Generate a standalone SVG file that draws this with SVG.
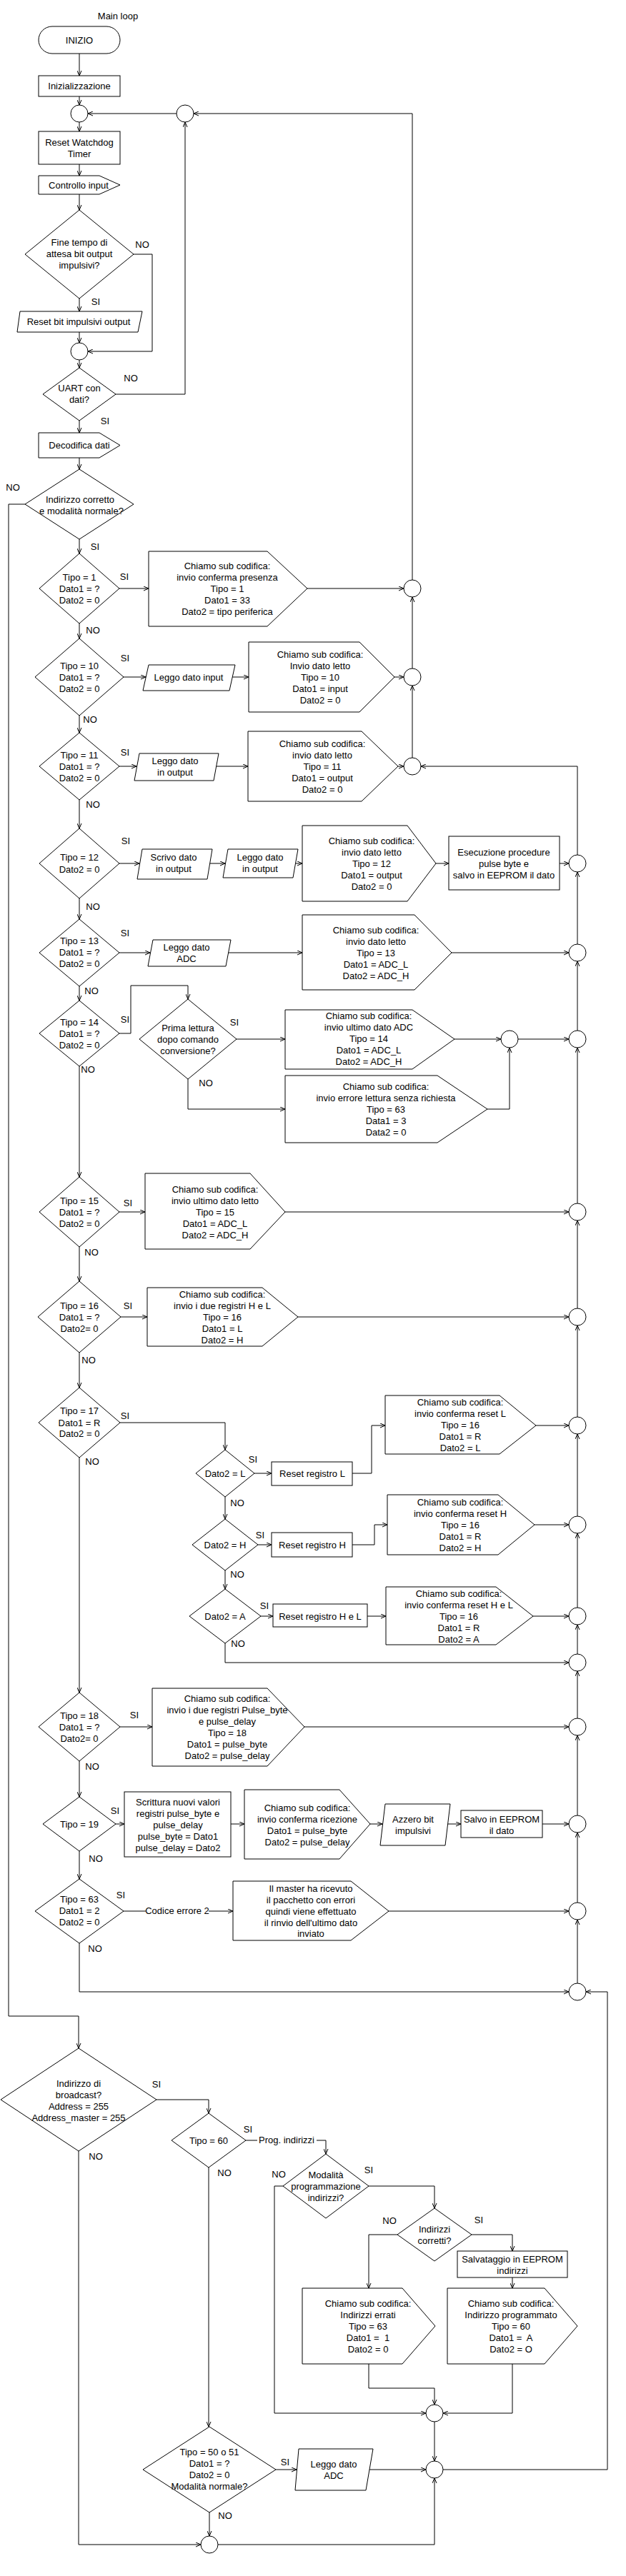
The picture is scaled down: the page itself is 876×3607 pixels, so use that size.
<svg xmlns="http://www.w3.org/2000/svg" width="876" height="3607" viewBox="0 0 876 3607">
<style>
.s{fill:#fff;stroke:#000;stroke-width:1}
.t{font-family:"Liberation Sans",Arial,sans-serif;font-size:13px;fill:#000;text-anchor:middle}
.c{fill:none;stroke:#000;stroke-width:1;marker-end:url(#ah)}
.n{fill:none;stroke:#000;stroke-width:1}
</style>
<defs>
<marker id="ah" viewBox="0 0 7 7" refX="7" refY="3.5" markerWidth="7" markerHeight="7" markerUnits="userSpaceOnUse" orient="auto"><path d="M0,0.5 L7,3.5 L0,6.5" fill="none" stroke="#000" stroke-width="1"/></marker>
</defs>
<rect width="876" height="3607" fill="#fff"/>
<text class="t" x="165" y="27">Main loop</text>

<g id="connectors">
<path class="c" d="M111,75 V106"/>
<path class="c" d="M111,135 V147"/>
<path class="c" d="M247,159 H123"/>
<path class="c" d="M577,812 V159 H271"/>
<path class="c" d="M111,171 V184"/>
<path class="c" d="M111,230 V246"/>
<path class="c" d="M111,272 V294"/>
<path class="c" d="M111,418 V436"/>
<path class="c" d="M187,356 H213 V492 H123"/>
<path class="c" d="M111,465 V480"/>
<path class="c" d="M111,504 V515"/>
<path class="c" d="M162,552 H259 V171"/>
<path class="c" d="M111,589 V606"/>
<path class="c" d="M111,641 V657"/>
<path class="c" d="M35,706 H12 V2823 H110 V2868"/>
<path class="c" d="M111,755 V775"/>
<path class="c" d="M167,824 H208"/>
<path class="c" d="M430,824 H565"/>
<path class="c" d="M111,873 V894"/>
<path class="c" d="M173,948 H204"/>
<path class="c" d="M325,948 H348"/>
<path class="c" d="M552,948 H565"/>
<path class="c" d="M577,936 V836"/>
<path class="c" d="M111,1002 V1026"/>
<path class="c" d="M167,1073 H191"/>
<path class="c" d="M302,1073 H347"/>
<path class="c" d="M557,1073 H565"/>
<path class="c" d="M577,1061 V960"/>
<path class="c" d="M808,1197 V1073 H589"/>
<path class="c" d="M111,1120 V1160"/>
<path class="c" d="M167,1209 H195"/>
<path class="c" d="M294,1209 H315"/>
<path class="c" d="M414,1209 H423"/>
<path class="c" d="M610,1209 H628"/>
<path class="c" d="M783,1209 H796"/>
<path class="c" d="M808,1322 V1221"/>
<path class="c" d="M111,1258 V1287"/>
<path class="c" d="M167,1334 H210"/>
<path class="c" d="M320,1334 H423"/>
<path class="c" d="M632,1334 H796"/>
<path class="c" d="M808,1443 V1346"/>
<path class="c" d="M111,1381 V1401"/>
<path class="c" d="M167,1447 H183 V1380 H263 V1399"/>
<path class="c" d="M331,1455 H399"/>
<path class="c" d="M636,1455 H701"/>
<path class="c" d="M725,1455 H796"/>
<path class="c" d="M263,1511 V1553 H399"/>
<path class="c" d="M682,1553 H713 V1467"/>
<path class="c" d="M808,1685 V1467"/>
<path class="c" d="M111,1493 V1648"/>
<path class="c" d="M167,1697 H203"/>
<path class="c" d="M399,1697 H796"/>
<path class="c" d="M808,1832 V1709"/>
<path class="c" d="M111,1746 V1794"/>
<path class="c" d="M169,1844 H206"/>
<path class="c" d="M417,1844 H796"/>
<path class="c" d="M808,1984 V1856"/>
<path class="c" d="M111,1894 V1943"/>
<path class="c" d="M168,1992 H315 V2030"/>
<path class="c" d="M356,2063 H380"/>
<path class="c" d="M493,2063 H520 V1996 H539"/>
<path class="c" d="M750,1996 H796"/>
<path class="c" d="M808,2123 V2008"/>
<path class="c" d="M315,2096 V2127"/>
<path class="c" d="M361,2163 H380"/>
<path class="c" d="M493,2163 H524 V2135 H542"/>
<path class="c" d="M748,2135 H796"/>
<path class="c" d="M808,2251 V2147"/>
<path class="c" d="M315,2199 V2225"/>
<path class="c" d="M365,2263 H382"/>
<path class="c" d="M514,2263 H540"/>
<path class="c" d="M746,2263 H796"/>
<path class="c" d="M808,2316 V2275"/>
<path class="c" d="M315,2301 V2328 H796"/>
<path class="c" d="M808,2406 V2340"/>
<path class="c" d="M111,2041 V2370"/>
<path class="c" d="M168,2418 H213"/>
<path class="c" d="M426,2418 H796"/>
<path class="c" d="M808,2542 V2430"/>
<path class="c" d="M111,2466 V2516"/>
<path class="c" d="M162,2554 H174"/>
<path class="c" d="M323,2554 H342"/>
<path class="c" d="M518,2554 H535"/>
<path class="c" d="M627,2554 H645"/>
<path class="c" d="M759,2554 H796"/>
<path class="c" d="M808,2664 V2566"/>
<path class="c" d="M111,2592 V2631"/>
<path class="n" d="M173,2676 H204"/>
<path class="c" d="M292,2676 H326"/>
<path class="c" d="M544,2676 H796"/>
<path class="c" d="M808,2777 V2688"/>
<path class="c" d="M111,2721 V2789 H796"/>
<path class="c" d="M620,3458 H850 V2789 H820"/>
<path class="c" d="M219,2940 H292 V2959"/>
<path class="n" d="M344,2997 H360"/>
<path class="c" d="M443,2997 H456 V3016"/>
<path class="c" d="M516,3061 H608 V3092"/>
<path class="c" d="M396,3061 H384 V3379 H596"/>
<path class="c" d="M556,3129 H516 V3204"/>
<path class="c" d="M660,3129 H717 V3152"/>
<path class="c" d="M717,3189 V3204"/>
<path class="c" d="M516,3310 V3344 H608 V3367"/>
<path class="c" d="M717,3310 V3379 H620"/>
<path class="c" d="M608,3391 V3446"/>
<path class="c" d="M292,3035 V3398"/>
<path class="c" d="M386,3458 H415"/>
<path class="c" d="M517,3458 H596"/>
<path class="c" d="M293,3518 V3551"/>
<path class="c" d="M110,3012 V3563 H281"/>
<path class="c" d="M305,3563 H608 V3470"/>
<text class="t" x="248" y="2680">Codice errore 2</text>
<text class="t" x="401" y="3001">Prog. indirizzi</text>
</g>

<g id="labels">
<text class="t" x="199" y="347">NO</text><text class="t" x="134" y="427">SI</text>
<text class="t" x="183" y="534">NO</text><text class="t" x="147" y="594">SI</text>
<text class="t" x="18" y="687">NO</text><text class="t" x="133" y="770">SI</text>
<text class="t" x="174" y="812">SI</text><text class="t" x="130" y="887">NO</text>
<text class="t" x="175" y="926">SI</text><text class="t" x="126" y="1012">NO</text>
<text class="t" x="175" y="1058">SI</text><text class="t" x="130" y="1131">NO</text>
<text class="t" x="176" y="1182">SI</text><text class="t" x="130" y="1274">NO</text>
<text class="t" x="175" y="1311">SI</text><text class="t" x="128" y="1392">NO</text>
<text class="t" x="175" y="1432">SI</text><text class="t" x="123" y="1502">NO</text>
<text class="t" x="328" y="1436">SI</text><text class="t" x="288" y="1521">NO</text>
<text class="t" x="179" y="1689">SI</text><text class="t" x="128" y="1758">NO</text>
<text class="t" x="179" y="1833">SI</text><text class="t" x="124" y="1909">NO</text>
<text class="t" x="175" y="1987">SI</text><text class="t" x="129" y="2051">NO</text>
<text class="t" x="354" y="2048">SI</text><text class="t" x="332" y="2109">NO</text>
<text class="t" x="364" y="2154">SI</text><text class="t" x="332" y="2209">NO</text>
<text class="t" x="370" y="2253">SI</text><text class="t" x="333" y="2306">NO</text>
<text class="t" x="188" y="2406">SI</text><text class="t" x="129" y="2478">NO</text>
<text class="t" x="161" y="2540">SI</text><text class="t" x="134" y="2607">NO</text>
<text class="t" x="169" y="2658">SI</text><text class="t" x="133" y="2733">NO</text>
<text class="t" x="219" y="2923">SI</text><text class="t" x="134" y="3024">NO</text>
<text class="t" x="347" y="2986">SI</text><text class="t" x="314" y="3047">NO</text>
<text class="t" x="390" y="3049">NO</text><text class="t" x="516" y="3043">SI</text>
<text class="t" x="545" y="3114">NO</text><text class="t" x="670" y="3113">SI</text>
<text class="t" x="399" y="3452">SI</text><text class="t" x="315" y="3527">NO</text>
</g>

<g id="inizio"><rect class="s" x="54" y="37" width="114" height="38" rx="19"/><text class="t" x="111" y="60.5">INIZIO</text></g>
<g id="inizializzazione"><rect class="s" x="54" y="106" width="114" height="29"/><text class="t" x="111" y="125">Inizializzazione</text></g>
<g id="c1"><circle class="s" cx="111" cy="159" r="12"/></g>
<g id="c2"><circle class="s" cx="259" cy="159" r="12"/></g>
<g id="watchdog"><rect class="s" x="54" y="184" width="114" height="46"/><text class="t" x="111"><tspan x="111" y="204">Reset Watchdog</tspan><tspan x="111" y="219.5">Timer</tspan></text></g>
<g id="controllo"><path class="s" d="M54,246 H139 L168,259 L139,272 H54 Z"/><text class="t" x="110" y="263.5">Controllo input</text></g>
<g id="fine_tempo"><polygon class="s" points="111,294 187,356 111,418 35,356"/><text class="t"><tspan x="111" y="343.5">Fine tempo di</tspan><tspan x="111" y="359.5">attesa bit output</tspan><tspan x="111" y="375.5">impulsivi?</tspan></text></g>
<g id="reset_bit"><polygon class="s" points="28,436 199,436 193,465 24,465"/><text class="t" x="110" y="455">Reset bit impulsivi output</text></g>
<g id="c3"><circle class="s" cx="111" cy="492" r="12"/></g>
<g id="uart"><polygon class="s" points="111,515 162,552 111,589 60,552"/><text class="t"><tspan x="111" y="548">UART con</tspan><tspan x="111" y="564">dati?</tspan></text></g>
<g id="decodifica"><path class="s" d="M54,606 H139 L168,623.5 L139,641 H54 Z"/><text class="t" x="111" y="628">Decodifica dati</text></g>
<g id="indirizzo"><polygon class="s" points="111,657 187,706 111,755 35,706"/><text class="t"><tspan x="112" y="703.5">Indirizzo corretto</tspan><tspan x="114" y="719.5">e modalità normale?</tspan></text></g>

<g id="tipo1"><polygon class="s" points="111,775 167,824 111,873 55,824"/><text class="t"><tspan x="111" y="812.5">Tipo = 1</tspan><tspan x="111" y="828.5">Dato1 = ?</tspan><tspan x="111" y="844.5">Dato2 = 0</tspan></text></g>
<g id="sub1"><path class="s" d="M208,772 H374 L430,824 L374,877 H208 Z"/><text class="t"><tspan x="318" y="796.5">Chiamo sub codifica:</tspan><tspan x="318" y="812.5">invio conferma presenza</tspan><tspan x="318" y="828.5">Tipo = 1</tspan><tspan x="318" y="844.5">Dato1 = 33</tspan><tspan x="318" y="860.5">Dato2 = tipo periferica</tspan></text></g>
<g id="ct1"><circle class="s" cx="577" cy="824" r="12"/></g>

<g id="tipo10"><polygon class="s" points="111,894 173,948 111,1002 49,948"/><text class="t"><tspan x="111" y="936.5">Tipo = 10</tspan><tspan x="111" y="952.5">Dato1 = ?</tspan><tspan x="111" y="968.5">Dato2 = 0</tspan></text></g>
<g id="leggo10"><polygon class="s" points="208,931 329,931 321,967 200,967"/><text class="t" x="264" y="952.5">Leggo dato input</text></g>
<g id="sub10"><path class="s" d="M348,899 H503 L552,948 L503,997 H348 Z"/><text class="t"><tspan x="448" y="920.5">Chiamo sub codifica:</tspan><tspan x="448" y="936.5">Invio dato letto</tspan><tspan x="448" y="952.5">Tipo = 10</tspan><tspan x="448" y="968.5">Dato1 = input</tspan><tspan x="448" y="984.5">Dato2 = 0</tspan></text></g>
<g id="ct10"><circle class="s" cx="577" cy="948" r="12"/></g>

<g id="tipo11"><polygon class="s" points="111,1026 167,1073 111,1120 55,1073"/><text class="t"><tspan x="111" y="1061.5">Tipo = 11</tspan><tspan x="111" y="1077.5">Dato1 = ?</tspan><tspan x="111" y="1093.5">Dato2 = 0</tspan></text></g>
<g id="leggo11"><polygon class="s" points="195,1055 306,1055 299,1093 188,1093"/><text class="t"><tspan x="245" y="1070">Leggo dato</tspan><tspan x="245" y="1086">in output</tspan></text></g>
<g id="sub11"><path class="s" d="M347,1024 H506 L557,1073 L506,1122 H347 Z"/><text class="t"><tspan x="451" y="1045.5">Chiamo sub codifica:</tspan><tspan x="451" y="1061.5">invio dato letto</tspan><tspan x="451" y="1077.5">Tipo = 11</tspan><tspan x="451" y="1093.5">Dato1 = output</tspan><tspan x="451" y="1109.5">Dato2 = 0</tspan></text></g>
<g id="ct11"><circle class="s" cx="577" cy="1073" r="12"/></g>

<g id="tipo12"><polygon class="s" points="111,1160 167,1209 111,1258 55,1209"/><text class="t"><tspan x="111" y="1205">Tipo = 12</tspan><tspan x="111" y="1221.5">Dato2 = 0</tspan></text></g>
<g id="scrivo12"><polygon class="s" points="199,1189 297,1189 290,1231 192,1231"/><text class="t"><tspan x="243" y="1205">Scrivo dato</tspan><tspan x="243" y="1221">in output</tspan></text></g>
<g id="leggo12"><polygon class="s" points="319,1189 417,1189 410,1229 312,1229"/><text class="t"><tspan x="364" y="1205">Leggo dato</tspan><tspan x="364" y="1221">in output</tspan></text></g>
<g id="sub12"><path class="s" d="M423,1156 H570 L610,1209 L570,1262 H423 Z"/><text class="t"><tspan x="520" y="1181.5">Chiamo sub codifica:</tspan><tspan x="520" y="1197.5">invio dato letto</tspan><tspan x="520" y="1213.5">Tipo = 12</tspan><tspan x="520" y="1229.5">Dato1 = output</tspan><tspan x="520" y="1245.5">Dato2 = 0</tspan></text></g>
<g id="esecuzione"><rect class="s" x="628" y="1171" width="155" height="75"/><text class="t"><tspan x="705" y="1197.5">Esecuzione procedure</tspan><tspan x="705" y="1213.5">pulse byte e</tspan><tspan x="705" y="1229.5">salvo in EEPROM il dato</tspan></text></g>
<g id="ct12"><circle class="s" cx="808" cy="1209" r="12"/></g>

<g id="tipo13"><polygon class="s" points="111,1287 167,1334 111,1381 55,1334"/><text class="t"><tspan x="111" y="1322">Tipo = 13</tspan><tspan x="111" y="1338">Dato1 = ?</tspan><tspan x="111" y="1354">Dato2 = 0</tspan></text></g>
<g id="leggo13"><polygon class="s" points="214,1316 323,1316 316,1353 207,1353"/><text class="t"><tspan x="261" y="1330.5">Leggo dato</tspan><tspan x="261" y="1346.5">ADC</tspan></text></g>
<g id="sub13"><path class="s" d="M423,1281 H580 L632,1334 L580,1386 H423 Z"/><text class="t"><tspan x="526" y="1306.5">Chiamo sub codifica:</tspan><tspan x="526" y="1322.5">invio dato letto</tspan><tspan x="526" y="1338.5">Tipo = 13</tspan><tspan x="526" y="1354.5">Dato1 = ADC_L</tspan><tspan x="526" y="1370.5">Dato2 = ADC_H</tspan></text></g>
<g id="ct13"><circle class="s" cx="808" cy="1334" r="12"/></g>

<g id="tipo14"><polygon class="s" points="111,1401 167,1447 111,1493 55,1447"/><text class="t"><tspan x="111" y="1435.5">Tipo = 14</tspan><tspan x="111" y="1451.5">Dato1 = ?</tspan><tspan x="111" y="1467.5">Dato2 = 0</tspan></text></g>
<g id="prima"><polygon class="s" points="263,1399 331,1455 263,1511 195,1455"/><text class="t"><tspan x="263" y="1443.5">Prima lettura</tspan><tspan x="263" y="1459.5">dopo comando</tspan><tspan x="263" y="1475.5">conversione?</tspan></text></g>
<g id="sub14"><path class="s" d="M399,1414 H577 L636,1455 L577,1497 H399 Z"/><text class="t"><tspan x="516" y="1427">Chiamo sub codifica:</tspan><tspan x="516" y="1443">invio ultimo dato ADC</tspan><tspan x="516" y="1459">Tipo = 14</tspan><tspan x="516" y="1475">Dato1 = ADC_L</tspan><tspan x="516" y="1491">Dato2 = ADC_H</tspan></text></g>
<g id="sub14err"><path class="s" d="M399,1506 H612 L682,1553 L612,1600 H399 Z"/><text class="t"><tspan x="540" y="1525.5">Chiamo sub codifica:</tspan><tspan x="540" y="1541.5">invio errore lettura senza richiesta</tspan><tspan x="540" y="1557.5">Tipo = 63</tspan><tspan x="540" y="1573.5">Data1 = 3</tspan><tspan x="540" y="1589.5">Data2 = 0</tspan></text></g>
<g id="ct14a"><circle class="s" cx="713" cy="1455" r="12"/></g>
<g id="ct14b"><circle class="s" cx="808" cy="1455" r="12"/></g>

<g id="tipo15"><polygon class="s" points="111,1648 167,1697 111,1746 55,1697"/><text class="t"><tspan x="111" y="1685.5">Tipo = 15</tspan><tspan x="111" y="1701.5">Dato1 = ?</tspan><tspan x="111" y="1717.5">Dato2 = 0</tspan></text></g>
<g id="sub15"><path class="s" d="M203,1643 H350 L399,1697 L350,1749 H203 Z"/><text class="t"><tspan x="301" y="1669.5">Chiamo sub codifica:</tspan><tspan x="301" y="1685.5">invio ultimo dato letto</tspan><tspan x="301" y="1701.5">Tipo = 15</tspan><tspan x="301" y="1717.5">Dato1 = ADC_L</tspan><tspan x="301" y="1733.5">Dato2 = ADC_H</tspan></text></g>
<g id="ct15"><circle class="s" cx="808" cy="1697" r="12"/></g>

<g id="tipo16"><polygon class="s" points="111,1794 169,1844 111,1894 53,1844"/><text class="t"><tspan x="111" y="1832.5">Tipo = 16</tspan><tspan x="111" y="1848.5">Dato1 = ?</tspan><tspan x="111" y="1864.5">Dato2= 0</tspan></text></g>
<g id="sub16"><path class="s" d="M206,1803 H367 L417,1844 L367,1885 H206 Z"/><text class="t"><tspan x="311" y="1816.5">Chiamo sub codifica:</tspan><tspan x="311" y="1832.5">invio i due registri H e L</tspan><tspan x="311" y="1848.5">Tipo = 16</tspan><tspan x="311" y="1864.5">Dato1 = L</tspan><tspan x="311" y="1880.5">Dato2 = H</tspan></text></g>
<g id="ct16"><circle class="s" cx="808" cy="1844" r="12"/></g>

<g id="tipo17"><polygon class="s" points="111,1943 168,1992 111,2041 54,1992"/><text class="t"><tspan x="111" y="1980">Tipo = 17</tspan><tspan x="111" y="1996.5">Dato1 = R</tspan><tspan x="111" y="2012">Dato2 = 0</tspan></text></g>
<g id="dato2L"><polygon class="s" points="315,2030 356,2063 315,2096 274,2063"/><text class="t" x="315" y="2067.5">Dato2 = L</text></g>
<g id="resetL"><rect class="s" x="380" y="2047" width="113" height="33"/><text class="t" x="437" y="2067.5">Reset registro L</text></g>
<g id="subL"><path class="s" d="M539,1954 H699 L750,1996 L699,2036 H539 Z"/><text class="t"><tspan x="644" y="1967.5">Chiamo sub codifica:</tspan><tspan x="644" y="1983.5">invio conferma reset L</tspan><tspan x="644" y="1999.5">Tipo = 16</tspan><tspan x="644" y="2015.5">Dato1 = R</tspan><tspan x="644" y="2031.5">Dato2 = L</tspan></text></g>
<g id="cL"><circle class="s" cx="808" cy="1996" r="12"/></g>
<g id="dato2H"><polygon class="s" points="315,2127 361,2163 315,2199 269,2163"/><text class="t" x="315" y="2167.5">Dato2 = H</text></g>
<g id="resetH"><rect class="s" x="380" y="2146" width="113" height="34"/><text class="t" x="437" y="2167.5">Reset registro H</text></g>
<g id="subH"><path class="s" d="M542,2093 H697 L748,2135 L697,2177 H542 Z"/><text class="t"><tspan x="644" y="2107.5">Chiamo sub codifica:</tspan><tspan x="644" y="2123.5">invio conferma reset H</tspan><tspan x="644" y="2139.5">Tipo = 16</tspan><tspan x="644" y="2155.5">Dato1 = R</tspan><tspan x="644" y="2171.5">Dato2 = H</tspan></text></g>
<g id="cH"><circle class="s" cx="808" cy="2135" r="12"/></g>
<g id="dato2A"><polygon class="s" points="315,2225 365,2263 315,2301 265,2263"/><text class="t" x="315" y="2267.5">Dato2 = A</text></g>
<g id="resetA"><rect class="s" x="382" y="2246" width="132" height="32"/><text class="t" x="448" y="2267.5">Reset registro H e L</text></g>
<g id="subA"><path class="s" d="M540,2222 H694 L746,2263 L694,2303 H540 Z"/><text class="t"><tspan x="642" y="2235.5">Chiamo sub codifica:</tspan><tspan x="642" y="2251.5">invio conferma reset H e L</tspan><tspan x="642" y="2267.5">Tipo = 16</tspan><tspan x="642" y="2283.5">Dato1 = R</tspan><tspan x="642" y="2299.5">Dato2 = A</tspan></text></g>
<g id="cA"><circle class="s" cx="808" cy="2263" r="12"/></g>
<g id="cA2"><circle class="s" cx="808" cy="2328" r="12"/></g>

<g id="tipo18"><polygon class="s" points="111,2370 168,2418 111,2466 54,2418"/><text class="t"><tspan x="111" y="2407">Tipo = 18</tspan><tspan x="111" y="2422.5">Dato1 = ?</tspan><tspan x="111" y="2438.5">Dato2= 0</tspan></text></g>
<g id="sub18"><path class="s" d="M213,2364 H374 L426,2418 L374,2473 H213 Z"/><text class="t"><tspan x="318" y="2382.5">Chiamo sub codifica:</tspan><tspan x="318" y="2398.5">invio i due registri Pulse_byte</tspan><tspan x="318" y="2414.5">e pulse_delay</tspan><tspan x="318" y="2430.5">Tipo = 18</tspan><tspan x="318" y="2446.5">Dato1 = pulse_byte</tspan><tspan x="318" y="2462.5">Dato2 = pulse_delay</tspan></text></g>
<g id="ct18"><circle class="s" cx="808" cy="2418" r="12"/></g>

<g id="tipo19"><polygon class="s" points="111,2516 162,2554 111,2592 60,2554"/><text class="t" x="111" y="2558.5">Tipo = 19</text></g>
<g id="scrittura"><rect class="s" x="174" y="2509" width="149" height="91"/><text class="t"><tspan x="249" y="2527.5">Scrittura nuovi valori</tspan><tspan x="249" y="2543.5">registri pulse_byte e</tspan><tspan x="249" y="2559.5">pulse_delay</tspan><tspan x="249" y="2575.5">pulse_byte = Dato1</tspan><tspan x="249" y="2591.5">pulse_delay = Dato2</tspan></text></g>
<g id="sub19"><path class="s" d="M342,2506 H475 L518,2554 L475,2603 H342 Z"/><text class="t"><tspan x="430" y="2535.5">Chiamo sub codifica:</tspan><tspan x="430" y="2551.5">invio conferma ricezione</tspan><tspan x="430" y="2567.5">Dato1 = pulse_byte</tspan><tspan x="430" y="2583.5">Dato2 = pulse_delay</tspan></text></g>
<g id="azzero"><polygon class="s" points="539,2526 630,2526 623,2584 532,2584"/><text class="t"><tspan x="578" y="2551.5">Azzero bit</tspan><tspan x="578" y="2567.5">impulsivi</tspan></text></g>
<g id="salvo"><rect class="s" x="645" y="2535" width="114" height="38"/><text class="t"><tspan x="702" y="2551.5">Salvo in EEPROM</tspan><tspan x="702" y="2567.5">il dato</tspan></text></g>
<g id="ct19"><circle class="s" cx="808" cy="2554" r="12"/></g>

<g id="tipo63"><polygon class="s" points="111,2631 173,2676 111,2721 49,2676"/><text class="t"><tspan x="111" y="2664">Tipo = 63</tspan><tspan x="111" y="2680">Dato1 = 2</tspan><tspan x="111" y="2696">Dato2 = 0</tspan></text></g>
<g id="sub63"><path class="s" d="M326,2634 H491 L544,2676 L491,2717 H326 Z"/><text class="t"><tspan x="435" y="2648.5">Il master ha ricevuto</tspan><tspan x="435" y="2664.5">il pacchetto con errori</tspan><tspan x="435" y="2680.5">quindi viene effettuato</tspan><tspan x="435" y="2696.5">il rinvio dell'ultimo dato</tspan><tspan x="435" y="2712">inviato</tspan></text></g>
<g id="ct63"><circle class="s" cx="808" cy="2676" r="12"/></g>
<g id="cm"><circle class="s" cx="808" cy="2789" r="12"/></g>

<g id="broadcast"><polygon class="s" points="110,2868 219,2940 110,3012 1,2940"/><text class="t"><tspan x="110" y="2921.5">Indirizzo di</tspan><tspan x="110" y="2937.5">broadcast?</tspan><tspan x="110" y="2953.5">Address = 255</tspan><tspan x="110" y="2969.5">Address_master = 255</tspan></text></g>
<g id="tipo60"><polygon class="s" points="292,2959 344,2997 292,3035 240,2997"/><text class="t" x="292" y="3001.5">Tipo = 60</text></g>
<g id="modalita"><polygon class="s" points="456,3016 516,3061 456,3106 396,3061"/><text class="t"><tspan x="456" y="3049.5">Modalità</tspan><tspan x="456" y="3065.5">programmazione</tspan><tspan x="456" y="3081.5">indirizzi?</tspan></text></g>
<g id="corretti"><polygon class="s" points="608,3092 660,3129 608,3166 556,3129"/><text class="t"><tspan x="608" y="3125.5">Indirizzi</tspan><tspan x="608" y="3141.5">corretti?</tspan></text></g>
<g id="salvataggio"><rect class="s" x="640" y="3152" width="154" height="37"/><text class="t"><tspan x="717" y="3167.5">Salvataggio in EEPROM</tspan><tspan x="717" y="3183.5">indirizzi</tspan></text></g>
<g id="suberr"><path class="s" d="M423,3204 H563 L609,3257 L563,3310 H423 Z"/><text class="t" xml:space="preserve"><tspan x="515" y="3229.5">Chiamo sub codifica:</tspan><tspan x="515" y="3245.5">Indirizzi errati</tspan><tspan x="515" y="3261.5">Tipo = 63</tspan><tspan x="515" y="3277.5">Dato1 =  1</tspan><tspan x="515" y="3293.5">Dato2 = 0</tspan></text></g>
<g id="subprog"><path class="s" d="M626,3204 H762 L808,3257 L762,3310 H626 Z"/><text class="t" xml:space="preserve"><tspan x="715" y="3229.5">Chiamo sub codifica:</tspan><tspan x="715" y="3245.5">Indirizzo programmato</tspan><tspan x="715" y="3261.5">Tipo = 60</tspan><tspan x="715" y="3277.5">Dato1 =  A</tspan><tspan x="715" y="3293.5">Dato2 = O</tspan></text></g>
<g id="cb1"><circle class="s" cx="608" cy="3379" r="12"/></g>
<g id="cb2"><circle class="s" cx="608" cy="3458" r="12"/></g>
<g id="tipo50"><polygon class="s" points="293,3398 386,3458 293,3518 200,3458"/><text class="t"><tspan x="293" y="3438">Tipo = 50 o 51</tspan><tspan x="293" y="3454">Dato1 = ?</tspan><tspan x="293" y="3470">Dato2 = 0</tspan><tspan x="293" y="3486">Modalità normale?</tspan></text></g>
<g id="leggo50"><polygon class="s" points="418,3429 522,3429 512,3487 413,3487"/><text class="t"><tspan x="467" y="3454.5">Leggo dato</tspan><tspan x="467" y="3470.5">ADC</tspan></text></g>
<g id="cb3"><circle class="s" cx="293" cy="3563" r="12"/></g>
</svg>
